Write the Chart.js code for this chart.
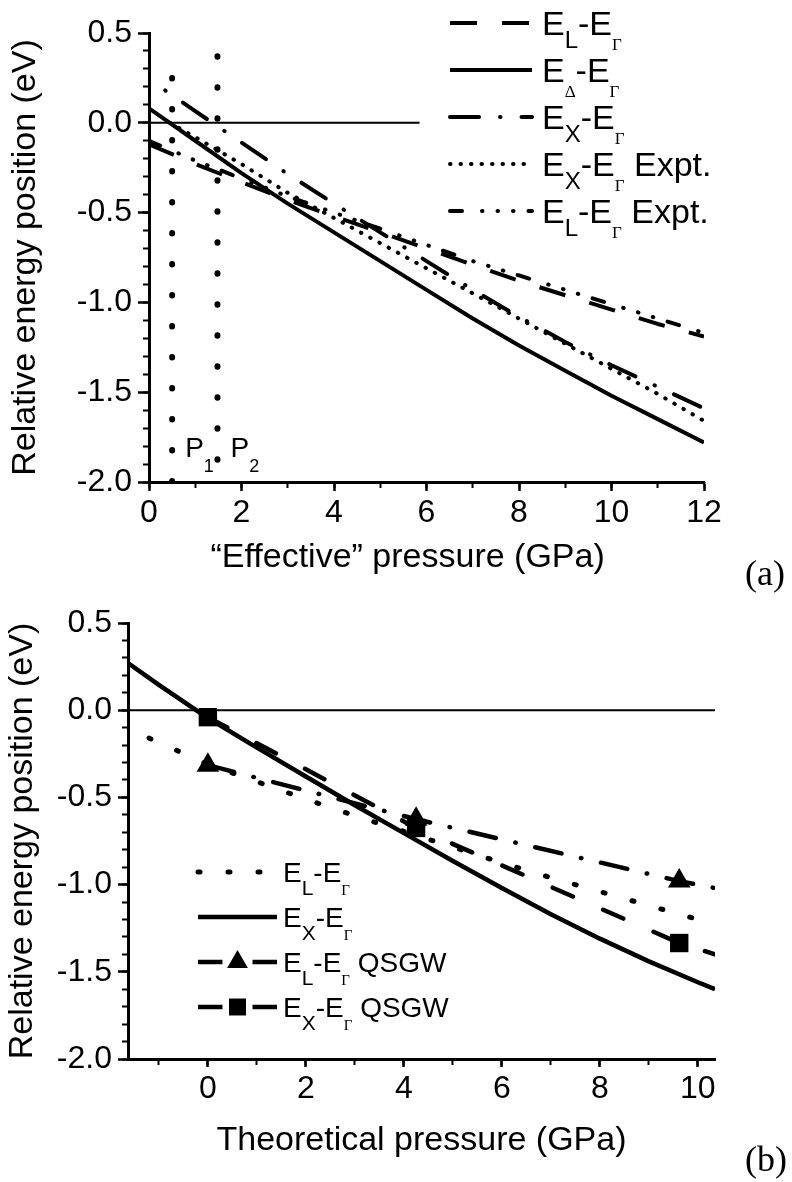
<!DOCTYPE html>
<html>
<head>
<meta charset="utf-8">
<script src="https://cdn.jsdelivr.net/npm/chart.js@4"></script>
<style>
  body { margin: 0; background: #fff; }
  #page { position: relative; width: 792px; height: 1182px; overflow: hidden; }
  canvas { position: absolute; left: 0; }
  .tag { position: absolute; font: 36px "Liberation Serif", "Times New Roman", serif; line-height: 36px; color: #000; }
</style>
</head>
<body>
<div id="page">
  <canvas id="chartA" width="792" height="590" style="top:0"></canvas>
  <canvas id="chartB" width="792" height="592" style="top:590px"></canvas>
  <div class="tag" style="left:745px;top:555px">(a)</div>
  <div class="tag" style="left:745px;top:1141px">(b)</div>
</div>
<script>
const SANS = '"Liberation Sans", Arial, sans-serif';
const SERIF = '"Liberation Serif", "Times New Roman", serif';
Chart.defaults.font.family = SANS;
Chart.defaults.color = '#000';

// ---- panel (a): "effective" pressure ----
const pressA = [0, 1, 2, 3, 4, 5, 6, 7, 8, 9, 10, 11, 12];
const eLA = [-0.12, -0.23, -0.33, -0.43, -0.52, -0.61, -0.70, -0.79, -0.88, -0.96, -1.04, -1.12, -1.19];
const eDeltaA = [0.08, -0.10, -0.28, -0.45, -0.61, -0.77, -0.93, -1.09, -1.24, -1.38, -1.52, -1.65, -1.78];
const eLExptA = [-0.10, -0.21, -0.31, -0.41, -0.50, -0.59, -0.68, -0.77, -0.85, -0.93, -1.01, -1.09, -1.17];
const pressXA = [0.35, 1, 2, 3, 4, 5, 6, 7, 8, 9, 10, 11, 12];
const eXA = [0.18, 0.065, -0.11, -0.285, -0.45, -0.61, -0.77, -0.93, -1.08, -1.22, -1.35, -1.47, -1.59];
const pressXExptA = [0.45, 1, 2, 3, 4, 5, 6, 7, 8, 9, 10, 11, 12];
const eXExptA = [0.0, -0.08, -0.23, -0.39, -0.53, -0.67, -0.81, -0.95, -1.09, -1.23, -1.37, -1.51, -1.66];
const zeroA = [0, 5.85];
const pTransX = [0.5, 1.48];
const pTransTop = [0.25, 0.37];
const pNames = ['1', '2'];
const pLabelY = -1.86;
const xTicksA = [0, 2, 4, 6, 8, 10, 12];
const yTicks = [-2.0, -1.5, -1.0, -0.5, 0.0, 0.5];
const legendA = ['E_{L}-E_{Γ}', 'E_{Δ}-E_{Γ}', 'E_{X}-E_{Γ}', 'E_{X}-E_{Γ} Expt.', 'E_{L}-E_{Γ} Expt.'];

// ---- panel (b): theoretical pressure ----
const xRangeB = [-1.63, 10.35];
const pressB = [-1.63, -1, 0, 1, 2, 3, 4, 5, 6, 7, 8, 9, 10, 10.35];
const eXB = [0.27, 0.145, -0.045, -0.215, -0.38, -0.545, -0.705, -0.865, -1.02, -1.17, -1.31, -1.44, -1.56, -1.60];
const pressLB = [-1.2, -1, 0, 1, 2, 3, 4, 5, 6, 7, 8, 9, 10, 10.35];
const eLB = [-0.16, -0.185, -0.31, -0.41, -0.51, -0.605, -0.695, -0.785, -0.875, -0.96, -1.04, -1.12, -1.20, -1.23];
const qsgwP = [0, 4.25, 9.62, 10.35];
const eLQ = [-0.315, -0.625, -0.98, -1.02];
const eXQ = [-0.04, -0.675, -1.335, -1.40];
const qsgwMark = [13, 13, 13, 0];
const xTicksB = [0, 2, 4, 6, 8, 10];
const legendB = ['E_{L}-E_{Γ}', 'E_{X}-E_{Γ}', 'E_{L}-E_{Γ} QSGW', 'E_{X}-E_{Γ} QSGW'];

const pts = (xs, ys) => xs.map((x, i) => ({x, y: ys[i]}));

function line(data, width, dash, cap, extra) {
  return Object.assign({
    data, xAxisID: 'x', yAxisID: 'y',
    borderColor: '#000', backgroundColor: '#000',
    borderWidth: width, borderDash: dash, borderCapStyle: cap || 'butt',
    borderJoinStyle: 'round', pointRadius: 0, tension: 0, fill: false
  }, extra || {});
}

// text with E_{L} style subscripts; greek subscripts set in serif
function drawRich(ctx, text, x, y, f) {
  text.split(/(_\{[^}]*\})/).filter(Boolean).forEach(part => {
    let s = part, dy = 0;
    if (part.startsWith('_{')) {
      s = part.slice(2, -1);
      const greek = /[\u0391-\u03A9]/.test(s);
      ctx.font = greek ? f.greek + 'px ' + SERIF : f.sub + 'px ' + SANS;
      dy = greek ? f.greekDy : f.subDy;
    } else {
      ctx.font = f.size + 'px ' + SANS;
    }
    ctx.fillText(s, x, y + dy);
    x += ctx.measureText(s).width;
  });
}

function decor(cfg) {
  return {
    id: 'decor',
    afterDatasetsDraw(chart) {
      const ctx = chart.ctx;
      ctx.save();
      ctx.fillStyle = '#000';
      ctx.strokeStyle = '#000';
      ctx.textAlign = 'left';
      ctx.textBaseline = 'alphabetic';
      cfg.labels.forEach((label, i) => {
        const ds = chart.data.datasets[cfg.ds[i]];
        const y = cfg.y0 + i * cfg.gap;
        ctx.lineWidth = ds.borderWidth;
        if (ds.pointStyle) {
          const mid = (cfg.x0 + cfg.x1) / 2;
          ctx.setLineDash([]);
          ctx.lineCap = 'butt';
          ctx.beginPath();
          ctx.moveTo(cfg.x0, y); ctx.lineTo(mid - cfg.mGap, y);
          ctx.moveTo(mid + cfg.mGap, y); ctx.lineTo(cfg.x1, y);
          ctx.stroke();
          Chart.helpers.drawPoint(ctx, {pointStyle: ds.pointStyle, radius: cfg.mR, rotation: 0, borderWidth: 0}, mid, y);
        } else {
          ctx.setLineDash(ds.borderDash);
          ctx.lineCap = ds.borderCapStyle;
          ctx.beginPath();
          ctx.moveTo(cfg.x0, y); ctx.lineTo(cfg.x1, y);
          ctx.stroke();
        }
        ctx.setLineDash([]);
        drawRich(ctx, label, cfg.tx, y + cfg.base, cfg.font);
      });
      if (cfg.extra) cfg.extra(chart, ctx);
      ctx.restore();
    }
  };
}

function axes(o) {
  const minor = (a, b, s) => scale => {
    const out = [];
    for (let v = a; v <= b + 1e-9; v += s) out.push({value: +v.toFixed(3)});
    scale.ticks = out;
  };
  return {
    x: {
      type: 'linear', position: 'bottom', weight: 1, min: o.xMin, max: o.xMax,
      afterBuildTicks: s => { s.ticks = o.xTicks.map(v => ({value: v})); },
      afterFit: s => { s.height = o.xH; },
      grid: {drawOnChartArea: false, tickLength: o.xTl, tickWidth: 2.5, tickColor: '#000'},
      border: {display: true, color: '#000', width: 3},
      ticks: {autoSkip: false, maxRotation: 0, padding: 3, font: {size: 32}, callback: v => String(v)},
      title: {display: true, text: o.xTitle, font: {size: 34}, padding: {top: 0, bottom: 0}}
    },
    xMinor: {
      type: 'linear', position: 'bottom', weight: 0, min: o.xMin, max: o.xMax,
      afterBuildTicks: minor(o.xMinorFrom, o.xMax, 1),
      afterFit: s => { s.height = 0; },
      grid: {drawOnChartArea: false, tickLength: 6, tickWidth: 2, tickColor: '#000'},
      border: {display: false},
      ticks: {display: false, autoSkip: false}
    },
    y: {
      type: 'linear', position: 'left', weight: 1, min: -2, max: 0.5,
      afterBuildTicks: s => { s.ticks = yTicks.map(v => ({value: v})); },
      afterFit: s => { s.width = o.yW; },
      grid: {drawOnChartArea: false, tickLength: o.yTl, tickWidth: 2.5, tickColor: '#000'},
      border: {display: true, color: '#000', width: 3},
      ticks: {autoSkip: false, padding: 6, font: {size: 32}, callback: v => v.toFixed(1)},
      title: {display: true, text: 'Relative energy position (eV)', font: {size: 34}, padding: {top: o.yTitlePad, bottom: 0}}
    },
    yMinor: {
      type: 'linear', position: 'left', weight: 0, min: -2, max: 0.5,
      afterBuildTicks: minor(-2, 0.5, 0.1),
      afterFit: s => { s.width = 0; },
      grid: {drawOnChartArea: false, tickLength: 6, tickWidth: 2, tickColor: '#000'},
      border: {display: false},
      ticks: {display: false, autoSkip: false}
    }
  };
}

const common = {
  responsive: false, animation: false, devicePixelRatio: 1, events: [],
  plugins: {legend: {display: false}, tooltip: {enabled: false}}
};

// panel (a)
new Chart(document.getElementById('chartA'), {
  type: 'line',
  data: {
    datasets: [
      line(pts(zeroA, [0, 0]), 2, []),
      line(pts([pTransX[0], pTransX[0]], [pTransTop[0], -2]), 6, [0.5, 30.5], 'round'),
      line(pts([pTransX[1], pTransX[1]], [pTransTop[1], -2]), 6, [0.5, 30.5], 'round'),
      line(pts(pressA, eLA), 4, [27, 25]),
      line(pts(pressA, eDeltaA), 4, []),
      line(pts(pressXA, eXA), 4, [29, 21, 0.5, 21], 'round', {borderDashOffset: 50}),
      line(pts(pressXExptA, eXExptA), 4, [0.5, 10], 'round'),
      line(pts(pressA, eLExptA), 4, [12, 20, 0.5, 15, 0.5, 15, 0.5, 15], 'round')
    ]
  },
  options: Object.assign({}, common, {
    layout: {padding: {left: 0, right: 88, top: 33, bottom: 12}},
    scales: axes({
      xMin: 0, xMax: 12, xTicks: xTicksA, xMinorFrom: 0, xH: 96, xTl: 9,
      xTitle: '\u201CEffective\u201D pressure (GPa)\u00A0\u00A0\u00A0\u00A0',
      yW: 149, yTl: 11, yTitlePad: 5
    })
  }),
  plugins: [decor({
    labels: legendA, ds: [3, 4, 5, 6, 7],
    x0: 450, x1: 532, tx: 542, y0: 23, gap: 47, base: 12,
    font: {size: 34, sub: 24, subDy: 13, greek: 17, greekDy: 15},
    extra: (chart, ctx) => {
      const xs = chart.scales.x, ys = chart.scales.y;
      pTransX.forEach((p, i) => {
        drawRich(ctx, 'P_{' + pNames[i] + '}', xs.getPixelForValue(p) + 13, ys.getPixelForValue(pLabelY),
          {size: 28, sub: 18, subDy: 15, greek: 18, greekDy: 15});
      });
    }
  })]
});

// panel (b)
new Chart(document.getElementById('chartB'), {
  type: 'line',
  data: {
    datasets: [
      line(pts(xRangeB, [0, 0]), 2, []),
      line(pts(pressLB, eLB), 5, [2, 28], 'round'),
      line(pts(pressB, eXB), 4.5, []),
      line(pts(qsgwP, eLQ), 4.5, [27, 20, 0.5, 20], 'round', {pointStyle: 'triangle', pointRadius: qsgwMark, pointBorderWidth: 0}),
      line(pts(qsgwP, eXQ), 4.5, [22, 33], 'round', {pointStyle: 'rect', pointRadius: qsgwMark, pointBorderWidth: 0})
    ]
  },
  options: Object.assign({}, common, {
    layout: {padding: {left: 0, right: 77, top: 33, bottom: 21}},
    scales: axes({
      xMin: xRangeB[0], xMax: xRangeB[1], xTicks: xTicksB, xMinorFrom: -1, xH: 102, xTl: 8,
      xTitle: 'Theoretical pressure (GPa)',
      yW: 128, yTl: 10, yTitlePad: 2
    })
  }),
  plugins: [decor({
    labels: legendB, ds: [1, 2, 3, 4],
    x0: 198, x1: 277, tx: 283, y0: 282, gap: 45, base: 10, mGap: 15, mR: 12,
    font: {size: 28, sub: 21, subDy: 13, greek: 15, greekDy: 13}
  })]
});
</script>
</body>
</html>
